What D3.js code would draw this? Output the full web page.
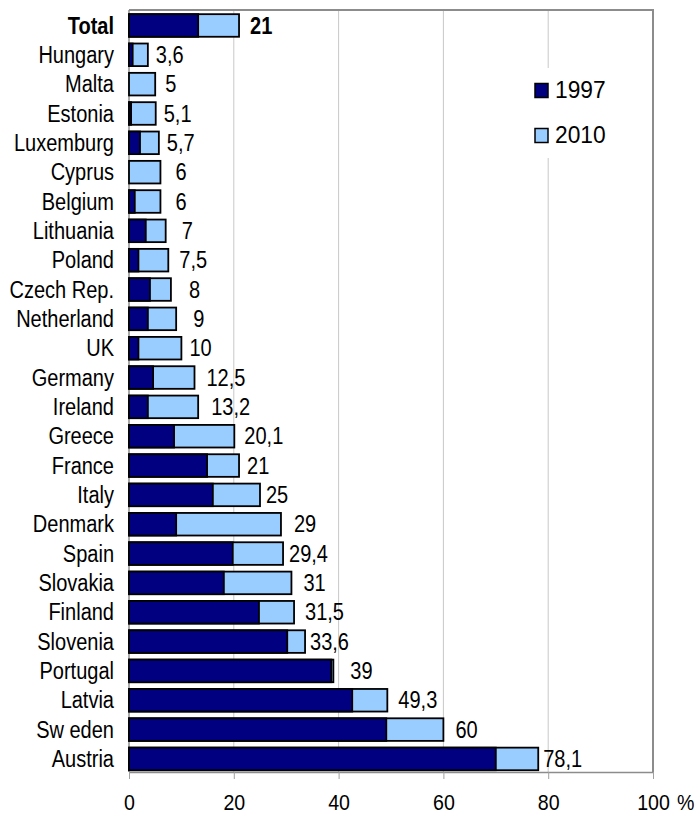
<!DOCTYPE html>
<html>
<head>
<meta charset="utf-8">
<script src="https://cdn.jsdelivr.net/npm/d3@7"></script>
<style>
  html, body { margin: 0; padding: 0; background: #fff; }
  svg { display: block; }
  text { font-family: "Liberation Sans", Arial, sans-serif; fill: #000; }
</style>
</head>
<body>
<div id="chart"></div>
<script>
// Share in %, 1997 vs 2010, by country
const categories = ["Total", "Hungary", "Malta", "Estonia", "Luxemburg", "Cyprus", "Belgium",
  "Lithuania", "Poland", "Czech Rep.", "Netherland", "UK", "Germany", "Ireland", "Greece",
  "France", "Italy", "Denmark", "Spain", "Slovakia", "Finland", "Slovenia", "Portugal",
  "Latvia", "Sw eden", "Austria"];
const values1997 = [13.2, 0.7, 0, 0.4, 2.1, 0, 1.1, 3.2, 1.8, 4.0, 3.6, 1.8, 4.6, 3.6, 8.6,
  14.9, 16.0, 9.0, 19.8, 18.1, 24.8, 30.2, 38.6, 42.6, 49.1, 70.0];
const values2010 = [21, 3.6, 5, 5.1, 5.7, 6, 6, 7, 7.5, 8, 9, 10, 12.5, 13.2, 20.1,
  21, 25, 29, 29.4, 31, 31.5, 33.6, 39, 49.3, 60, 78.1];
const xTicks = [0, 20, 40, 60, 80, 100];
const seriesNames = ["1997", "2010"];

// horizontal nudge (px) of each value label past the end of its bar
const labelNudge = [11, 8, 10, 8, 8, 15, 15, 16, 11, 18, 17, 8, 12, 13, 10,
  8, 6, 13, 6, 12, 11, 5, 17, 11, 12, 5];

const W = 700, H = 816;
const plot = { left: 129, right: 653, top: 10, bottom: 772 };
const colors = { y1997: "#000080", y2010: "#99CCFF" };
const FONT = 23, SX = 0.87;

const svg = d3.select("#chart").append("svg")
  .attr("width", W).attr("height", H);

const x = d3.scaleLinear().domain([0, 100]).range([plot.left, plot.right]);
const y = d3.scaleBand().domain(categories)
  .range([plot.top + 0.8, plot.bottom + 1.6])
  .paddingInner(0.23).paddingOuter(0.115);

// vertical gridlines
svg.append("g").selectAll("line")
  .data(xTicks.filter(t => t > 0 && t < 100))
  .join("line")
  .attr("x1", d => x(d)).attr("x2", d => x(d))
  .attr("y1", plot.top).attr("y2", plot.bottom)
  .attr("stroke", "#c8c8c8").attr("stroke-width", 1);

// plot frame (top, right) and left axis line
svg.append("path")
  .attr("d", `M${plot.left},${plot.top}H${plot.right}V${plot.bottom}`)
  .attr("fill", "none").attr("stroke", "#8c8c8c").attr("stroke-width", 2);
svg.append("line")
  .attr("x1", plot.left).attr("x2", plot.left)
  .attr("y1", plot.top).attr("y2", plot.bottom)
  .attr("stroke", "#8c8c8c").attr("stroke-width", 1.5);

// bottom axis
const axis = svg.append("g")
  .attr("transform", `translate(0,${plot.bottom})`)
  .call(d3.axisBottom(x).tickValues(xTicks).tickSize(7).tickSizeOuter(0).tickFormat(d3.format("d")));
axis.select(".domain").attr("stroke", "#8c8c8c").attr("stroke-width", 1.5);
axis.selectAll(".tick line").attr("stroke", "#a0a0a0");
axis.selectAll(".tick text")
  .attr("y", 0).attr("dy", null)
  .attr("transform", `translate(0,38) scale(${SX},1)`)
  .style("font-size", "22.5px")
  .style("font-family", '"Liberation Sans", Arial, sans-serif')
  .attr("fill", "#000");
svg.append("text")
  .attr("transform", `translate(${x(100) + 24},${plot.bottom + 38}) scale(${SX},1)`)
  .style("font-size", "22.5px")
  .text("%");

const rows = categories.map((c, i) => ({
  name: c, v97: values1997[i], v10: values2010[i], nudge: labelNudge[i], i
}));

const bars = svg.append("g");
// 2010 bar, full length
bars.selectAll("rect.b10").data(rows).join("rect")
  .attr("class", "b10")
  .attr("x", x(0)).attr("y", d => y(d.name))
  .attr("width", d => x(d.v10) - x(0))
  .attr("height", y.bandwidth())
  .attr("fill", colors.y2010).attr("stroke", "#000").attr("stroke-width", 1.8);
// 1997 bar, drawn over it
bars.selectAll("rect.b97").data(rows.filter(d => d.v97 > 0)).join("rect")
  .attr("class", "b97")
  .attr("x", x(0)).attr("y", d => y(d.name))
  .attr("width", d => x(d.v97) - x(0))
  .attr("height", y.bandwidth())
  .attr("fill", colors.y1997).attr("stroke", "#000").attr("stroke-width", 1.8);

// category labels
svg.append("g").selectAll("text").data(rows).join("text")
  .attr("transform", d => `translate(114,${y(d.name) + y.bandwidth() / 2}) scale(${SX},1)`)
  .attr("dy", "0.35em")
  .attr("text-anchor", "end")
  .style("font-size", FONT + "px")
  .style("font-weight", d => d.i === 0 ? "bold" : "normal")
  .text(d => d.name);

// value labels (2010)
const fmt = v => String(v).replace(".", ",");
svg.append("g").selectAll("text").data(rows).join("text")
  .attr("transform", d => `translate(${x(d.v10) + d.nudge},${y(d.name) + y.bandwidth() / 2}) scale(${SX},1)`)
  .attr("dy", "0.35em")
  .style("font-size", FONT + "px")
  .style("font-weight", d => d.i === 0 ? "bold" : "normal")
  .text(d => fmt(d.v10));

// legend
const legend = svg.append("g");
legend.append("rect")
  .attr("x", 525).attr("y", 68).attr("width", 110).attr("height", 90)
  .attr("fill", "#fff");
const items = legend.selectAll("g").data(seriesNames).join("g")
  .attr("transform", (d, i) => `translate(535,${83.5 + i * 45})`);
items.append("rect")
  .attr("width", 13).attr("height", 14)
  .attr("fill", (d, i) => i === 0 ? colors.y1997 : colors.y2010)
  .attr("stroke", "#000").attr("stroke-width", 1.5);
items.append("text")
  .attr("transform", `translate(20,14.5) scale(0.93,1)`)
  .style("font-size", "24.5px")
  .text(d => d);
</script>
</body>
</html>
